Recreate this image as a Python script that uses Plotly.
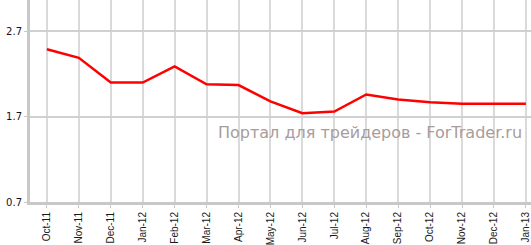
import plotly.graph_objects as go

categories = ["Oct-11", "Nov-11", "Dec-11", "Jan-12", "Feb-12", "Mar-12", "Apr-12", "May-12",
              "Jun-12", "Jul-12", "Aug-12", "Sep-12", "Oct-12", "Nov-12", "Dec-12", "Jan-13"]
values = [2.49, 2.39, 2.10, 2.10, 2.29, 2.08, 2.07, 1.88, 1.74, 1.76, 1.96, 1.90, 1.87, 1.85, 1.85, 1.85]
y_ticks = [0.7, 1.7, 2.7]
y_tick_labels = ["0.7", "1.7", "2.7"]
watermark = "Портал для трейдеров - ForTrader.ru"

fig = go.Figure()
fig.add_trace(go.Scatter(x=list(range(len(categories))), y=values, mode="lines",
                         line=dict(color="#ff0000", width=2.5), hoverinfo="skip"))

fig.update_layout(
    width=531, height=245,
    margin=dict(l=30, r=0, t=0, b=43, autoexpand=False),
    paper_bgcolor="white", plot_bgcolor="white",
    showlegend=False,
    font=dict(family="Liberation Sans, Arial, sans-serif", size=10, color="#1a1a1a"),
    xaxis=dict(
        range=[-0.53, 15.16],
        tickmode="array", tickvals=list(range(len(categories))), ticktext=categories,
        tickangle=-90, automargin=False, ticklabeloverflow="allow",
        showgrid=True, gridcolor="#dadada", gridwidth=1.5,
        showline=True, linecolor="#c8c8c8", linewidth=3,
        ticks="outside", ticklen=3, tickcolor="#c8c8c8", tickwidth=1,
        zeroline=False, fixedrange=True,
        tickfont=dict(family="Liberation Sans, Arial, sans-serif", size=10, color="#1a1a1a"),
    ),
    yaxis=dict(
        range=[0.7, 3.067], automargin=False,
        tickmode="array", tickvals=y_ticks, ticktext=y_tick_labels,
        showgrid=True, gridcolor="#d0d0d0", gridwidth=1.5,
        showline=True, linecolor="#c8c8c8", linewidth=3,
        ticks="outside", ticklen=3, tickcolor="#c8c8c8", tickwidth=1,
        zeroline=False, fixedrange=True,
        tickfont=dict(family="DejaVu Sans, Verdana, sans-serif", size=10, color="#10102a"),
    ),
    annotations=[dict(
        text=watermark, xref="paper", yref="paper", x=0.679, y=0.342,
        xanchor="center", yanchor="middle", showarrow=False,
        font=dict(family="DejaVu Sans, Verdana, sans-serif", size=16, color="#a89c9c"),
    )],
)

fig.write_html("out.html", config={"displayModeBar": False})
